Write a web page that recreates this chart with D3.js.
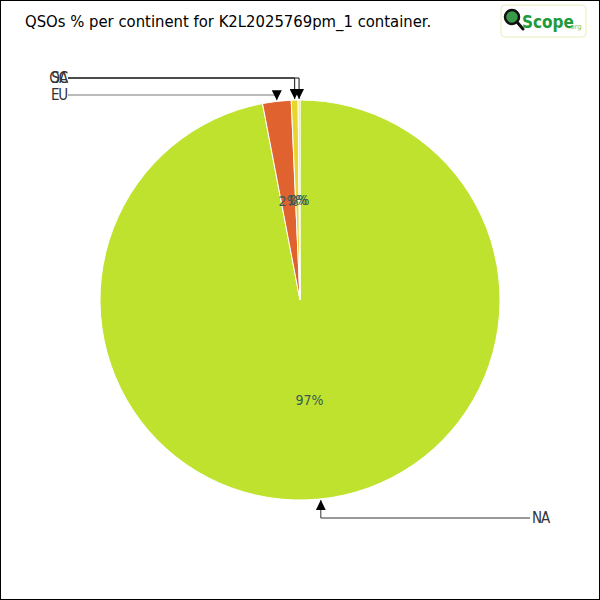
<!DOCTYPE html>
<html><head><meta charset="utf-8">
<script src="https://cdn.jsdelivr.net/npm/d3@7"></script>
<style>body{margin:0;background:#fff}</style>
</head><body>
<script>
const categories = ["NA","EU","OC","SA"];
const values = [97.0, 2.3, 0.55, 0.15];
const pctLabels = ["97%","2%","1%","0%"];
const colors = ["#BFE22F","#E0622E","#E8D62E","#F0E040"];
const lineColors = ["#333","#777","#111","#111"];
const title = "QSOs % per continent for K2L2025769pm_1 container.";

const W=600,H=600, cx=300, cy=300, R=200;
const svg=d3.select("body").append("svg").attr("width",W).attr("height",H);
svg.append("rect").attr("x",0.5).attr("y",0.5).attr("width",W-1).attr("height",H-1).attr("fill","#fff").attr("stroke","#000");
svg.append("text").attr("x",25).attr("y",27).attr("font-family","DejaVu Sans Condensed, DejaVu Sans").attr("font-size",16.5).attr("fill","#000").text(title);

// logo
const lg=svg.append("g").attr("transform","translate(501,5)");
lg.append("rect").attr("x",0).attr("y",0).attr("width",85).attr("height",32).attr("rx",4).attr("fill","#fff").attr("stroke","#E6F0B8");
lg.append("circle").attr("cx",11).attr("cy",12).attr("r",7).attr("fill","#3a9a4a").attr("stroke","#111").attr("stroke-width",2.5);
lg.append("line").attr("x1",16).attr("y1",17).attr("x2",22).attr("y2",24).attr("stroke","#111").attr("stroke-width",3).attr("stroke-linecap","round");
lg.append("text").attr("x",21).attr("y",23).attr("font-family","DejaVu Sans Condensed, DejaVu Sans").attr("font-weight","bold").attr("font-size",17).attr("fill","#1E9A3C").text("Scope");
lg.append("text").attr("x",67).attr("y",24).attr("font-family","DejaVu Sans").attr("font-size",7).attr("fill","#8BC34A").text(".org");

const data=categories.map((c,i)=>({c,v:values[i],p:pctLabels[i],col:colors[i],lc:lineColors[i]}));
const pie=d3.pie().sort(null).value(d=>d.v);
const arcs=pie(data);
const arc=d3.arc().innerRadius(0).outerRadius(R);
const g=svg.append("g").attr("transform",`translate(${cx},${cy})`);
g.selectAll("path").data(arcs).join("path").attr("d",arc).attr("fill",d=>d.data.col).attr("stroke","#fff").attr("stroke-width",1);

const mid=d=>(d.startAngle+d.endAngle)/2;
g.selectAll("text.pct").data(arcs).join("text").attr("class","pct")
 .attr("x",d=>R/2*Math.sin(mid(d))).attr("y",d=>-R/2*Math.cos(mid(d))+5)
 .attr("text-anchor","middle").attr("font-family","DejaVu Sans Condensed, DejaVu Sans").attr("font-size",14).attr("fill","#355a55")
 .text(d=>d.data.p);

// callouts
svg.append("defs").append("marker").attr("id","ar").attr("viewBox","0 0 10 10").attr("refX",10).attr("refY",5)
 .attr("markerWidth",10).attr("markerHeight",10).attr("markerUnits","userSpaceOnUse").attr("orient","auto")
 .append("path").attr("d","M0,0L10,5L0,10Z").attr("fill","#000");
const yLevels={NA:518,EU:95,OC:78,SA:78};
arcs.forEach(d=>{
  const a=mid(d);
  const ex=cx+R*Math.sin(a), ey=cy-R*Math.cos(a);
  const yl=yLevels[d.data.c];
  const bottom = ey>cy;
  const tx = bottom?530:68;
  const ex2 = bottom? ex+2 : ex;
  svg.append("path").attr("d",`M${tx},${yl}L${ex2},${yl}L${ex2},${bottom?ey+1:ey-1}`)
    .attr("fill","none").attr("stroke",d.data.lc).attr("stroke-width",1).attr("marker-end","url(#ar)");
  svg.append("text").attr("x",bottom?tx+2:tx-1).attr("y",yl+5).attr("text-anchor",bottom?"start":"end")
    .attr("font-family","DejaVu Sans Condensed, DejaVu Sans").attr("font-size",15).attr("fill","#333").attr("letter-spacing",-1.2).text(d.data.c);
});
</script>
</body></html>
